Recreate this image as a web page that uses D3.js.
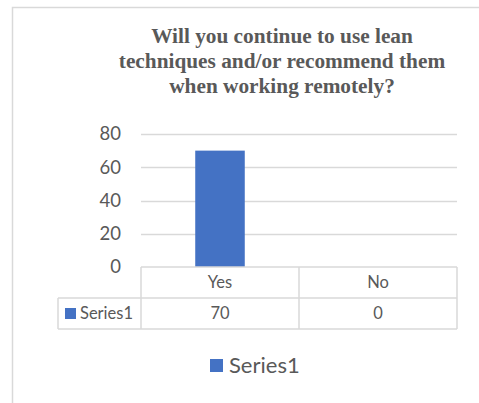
<!DOCTYPE html>
<html>
<head>
<meta charset="utf-8">
<script src="https://cdn.jsdelivr.net/npm/d3@7"></script>
<style>
html,body{margin:0;padding:0;background:#fff;}
svg{display:block;}
</style>
</head>
<body>
<svg id="chart" width="479" height="403"></svg>
<script>
// ---- data ----
const categories = ["Yes", "No"];
const values = [70, 0];
const seriesName = "Series1";
const yTicks = [0, 20, 40, 60, 80];
const titleLines = ["Will you continue to use lean", "techniques and/or recommend them", "when working remotely?"];

// ---- layout ----
const svg = d3.select("#chart");
const W = 479, H = 403;
const plotL = 141, plotR = 457, plotT = 134, plotB = 267;
const tableL = 58, rowH = 31;
const grid = "#d9d9d9", txt = "#595959", barColor = "#4472c4";

// chart frame
svg.append("path")
  .attr("d", `M12.5,${H} V7.5 H${W}`)
  .attr("fill", "none").attr("stroke", grid).attr("stroke-width", 1.5);

// title
const title = svg.append("text")
  .attr("text-anchor", "middle")
  .attr("font-family", "'Liberation Serif','Times New Roman',serif")
  .attr("font-weight", "bold").attr("font-size", 21.3).attr("fill", txt);
titleLines.forEach((l, i) => {
  title.append("tspan").attr("x", 282).attr("y", 43 + i * 25).text(l);
});

// scales
const x = d3.scaleBand().domain(categories).range([plotL, plotR]).padding(0);
const y = d3.scaleLinear().domain([0, 80]).range([plotB, plotT]);

// gridlines
svg.append("g").selectAll("line").data(yTicks.filter(d => d > 0)).join("line")
  .attr("x1", plotL).attr("x2", plotR)
  .attr("y1", d => Math.round(y(d)) + 0.5).attr("y2", d => Math.round(y(d)) + 0.5)
  .attr("stroke", grid).attr("stroke-width", 1.5);

// y axis labels
const yAxis = d3.axisLeft(y).tickValues(yTicks).tickSize(0).tickPadding(20);
const gy = svg.append("g").attr("transform", `translate(${plotL},0)`).call(yAxis);
gy.select(".domain").remove();
gy.selectAll("text").attr("font-family", "Lato, 'Open Sans', sans-serif")
  .attr("font-size", 18.5).attr("fill", txt);

// bars
const gap = 2.19;
const barW = x.bandwidth() / (1 + gap);
svg.append("g").selectAll("rect").data(categories).join("rect")
  .attr("x", (d) => x(d) + (x.bandwidth() - barW) / 2)
  .attr("width", barW)
  .attr("y", (d, i) => y(values[i]))
  .attr("height", (d, i) => y(0) - y(values[i]))
  .attr("fill", barColor);

// data table
const tbl = svg.append("g").attr("stroke", grid).attr("stroke-width", 1.5).attr("fill", "none");
const r1 = plotB, r2 = plotB + rowH, r3 = plotB + 2 * rowH;
tbl.append("line").attr("x1", plotL).attr("x2", plotR).attr("y1", r1).attr("y2", r1);
tbl.append("line").attr("x1", tableL).attr("x2", plotR).attr("y1", r2).attr("y2", r2);
tbl.append("line").attr("x1", tableL).attr("x2", plotR).attr("y1", r3).attr("y2", r3);
tbl.append("line").attr("x1", tableL).attr("x2", tableL).attr("y1", r2).attr("y2", r3);
[plotL].concat(categories.map(c => x(c) + x.bandwidth())).forEach(xx => {
  tbl.append("line").attr("x1", xx).attr("x2", xx).attr("y1", r1).attr("y2", r3);
});

const tf = "Lato, 'Open Sans', sans-serif";
svg.append("g").selectAll("text").data(categories).join("text")
  .attr("x", d => x(d) + x.bandwidth() / 2).attr("y", r1 + rowH / 2)
  .attr("dy", "0.35em").attr("text-anchor", "middle")
  .attr("font-family", tf).attr("font-size", 16.5).attr("fill", txt).text(d => d);
svg.append("g").selectAll("text").data(values).join("text")
  .attr("x", (d, i) => x(categories[i]) + x.bandwidth() / 2).attr("y", r2 + rowH / 2)
  .attr("dy", "0.35em").attr("text-anchor", "middle")
  .attr("font-family", tf).attr("font-size", 16.5).attr("fill", txt).text(d => d);
svg.append("rect").attr("x", 65).attr("y", r2 + 10).attr("width", 11).attr("height", 11).attr("fill", barColor);
svg.append("text").attr("x", 80).attr("y", r2 + rowH / 2).attr("dy", "0.35em")
  .attr("font-family", tf).attr("font-size", 16.5).attr("fill", txt).text(seriesName);

// legend
svg.append("rect").attr("x", 210).attr("y", 359).attr("width", 13).attr("height", 13).attr("fill", barColor);
svg.append("text").attr("x", 229).attr("y", 373)
  .attr("font-family", tf).attr("font-size", 22).attr("fill", txt).text(seriesName);
</script>
</body>
</html>
